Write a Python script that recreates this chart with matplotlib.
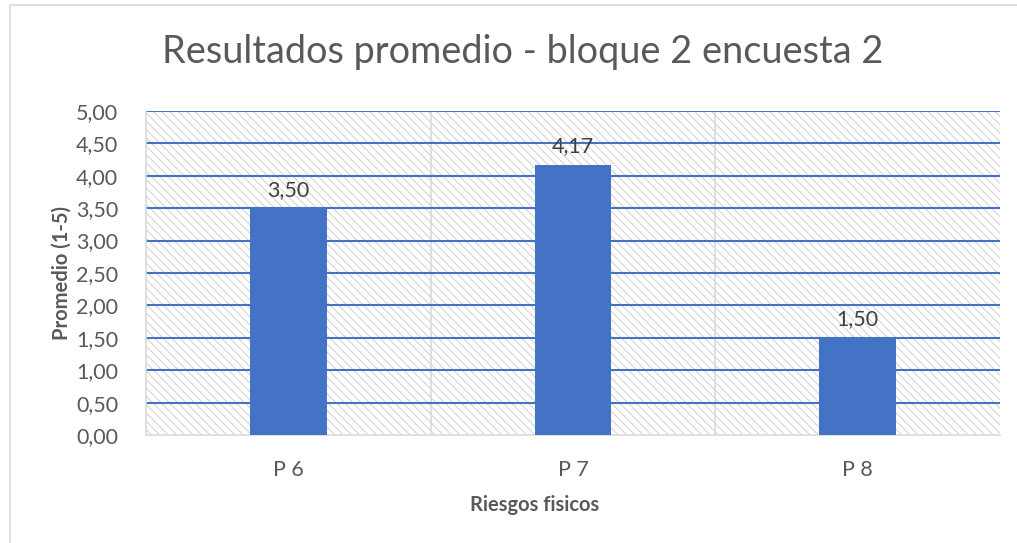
import numpy as np
import matplotlib.pyplot as plt
from matplotlib.patches import Rectangle

categorias = ["P 6", "P 7", "P 8"]
promedios = [3.50, 4.17, 1.50]
etiquetas = ["3,50", "4,17", "1,50"]
ticks_y = [0, 0.5, 1, 1.5, 2, 2.5, 3, 3.5, 4, 4.5, 5]
ticks_y_txt = ["0,00", "0,50", "1,00", "1,50", "2,00", "2,50", "3,00", "3,50", "4,00", "4,50", "5,00"]

plt.rcParams['font.family'] = ['Lato', 'DejaVu Sans']
plt.rcParams['hatch.linewidth'] = 0.6
plt.rcParams['hatch.color'] = '#c8c8c8'

azul = '#4472C4'
gris_txt = '#595959'

fig = plt.figure(figsize=(10.17, 5.43), dpi=100)
ax = fig.add_axes([0.1436, 0.1989, 0.8397, 0.5967])

# fondo rayado del area de trazado
ax.add_patch(Rectangle((0, 0), 1, 1, transform=ax.transAxes, facecolor='white',
                       edgecolor='#c8c8c8', hatch='\\\\\\\\', linewidth=0, zorder=0))

x = np.arange(len(categorias))
ax.bar(x, promedios, width=0.27, color=azul, zorder=3)

for xi, v, t in zip(x, promedios, etiquetas):
    ax.text(xi, v + 0.13, t, ha='center', va='bottom', fontsize=15.5, color='#404040', zorder=4)

ax.set_xlim(-0.5, 2.5)
ax.set_ylim(0, 5)
ax.set_yticks(ticks_y)
ax.set_yticklabels(ticks_y_txt)
ax.set_xticks(x)
ax.set_xticklabels(categorias)
ax.tick_params(axis='both', length=0, labelsize=15.5, labelcolor=gris_txt)
ax.tick_params(axis='y', pad=20)
ax.tick_params(axis='x', pad=18)

for yv in ticks_y[1:]:
    ax.axhline(yv, color=azul, linewidth=1.5, zorder=2)
for xv in [0.5, 1.5]:
    ax.axvline(xv, color='#d9d9d9', linewidth=1.2, zorder=1)

for s in ['top', 'right']:
    ax.spines[s].set_visible(False)
ax.spines['left'].set_color('#d9d9d9')
ax.spines['bottom'].set_color('#d9d9d9')
ax.spines['left'].set_linewidth(1.2)
ax.spines['bottom'].set_linewidth(1.2)

fig.text(62 / 1017, 1 - 273 / 543, "Promedio (1-5)", ha='center', va='center', rotation=90,
         fontsize=14.5, fontweight='bold', color=gris_txt)
fig.text(535 / 1017, 1 - 505 / 543, "Riesgos fisicos", ha='center', va='center',
         fontsize=14.5, fontweight='bold', color=gris_txt)

fig.text(0.514, 0.904, "Resultados promedio - bloque 2 encuesta 2", ha='center', va='center',
         fontsize=27.3, color=gris_txt)

# borde del grafico
fig.patches.append(Rectangle((0.010, -0.02), 1.0, 1.01, transform=fig.transFigure,
                             fill=False, edgecolor='#d9d9d9', linewidth=1.2))

fig.savefig("out.png", dpi=100)
